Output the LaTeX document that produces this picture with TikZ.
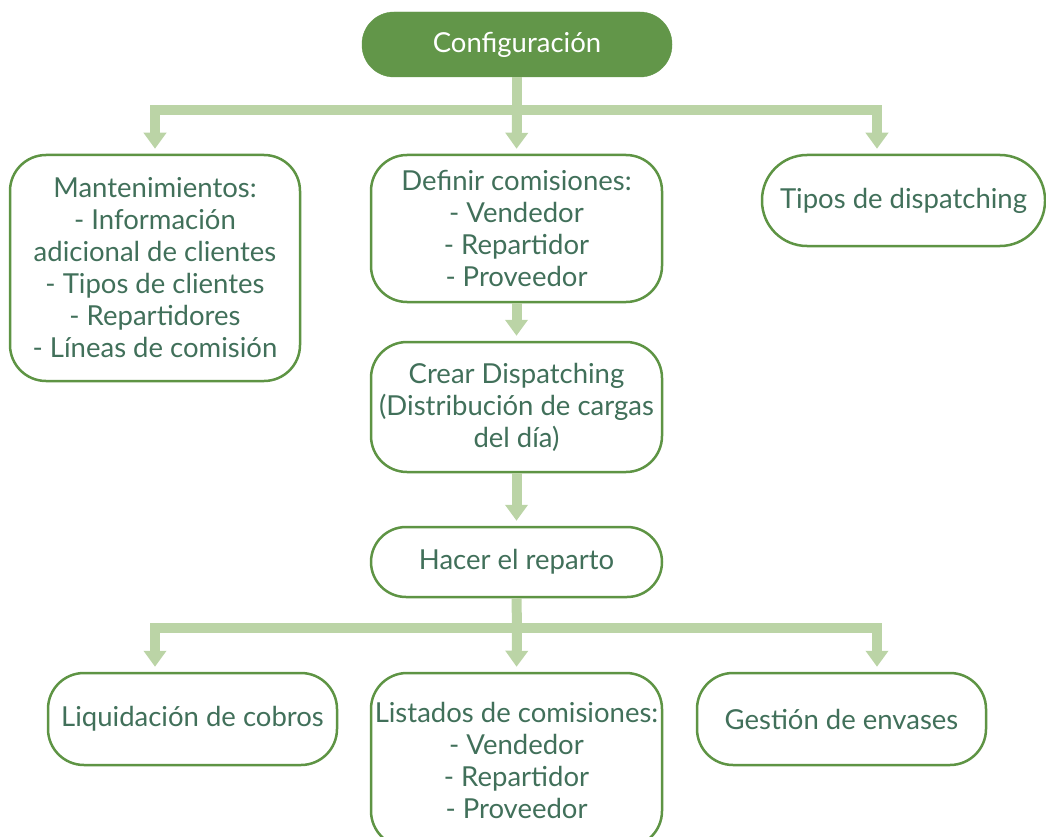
\documentclass[tikz,border=0pt]{standalone}
\usepackage{fontspec}
\setmainfont{Lato}
\usetikzlibrary{arrows.meta}
\definecolor{darkg}{HTML}{629649}
\definecolor{lightg}{HTML}{BBD4A6}
\definecolor{boxg}{HTML}{5E9444}
\definecolor{txtg}{HTML}{41705A}
\tikzset{
  box/.style={draw=boxg, line width=2.5pt, rounded corners=36pt, fill=white,
    text=txtg, align=center, inner sep=0pt, font=\fontsize{27.5}{32}\selectfont},
  topbox/.style={fill=darkg, draw=darkg, rounded corners=32pt, text=white,
    inner sep=0pt, font=\fontsize{27.5}{32}\selectfont},
  conn/.style={draw=lightg, line width=10pt},
  arr/.style={draw=lightg, line width=10pt, -{Triangle[width=22pt,length=16pt]}, shorten >=5pt}
}
\begin{document}
\begin{tikzpicture}[x=1pt,y=-1pt]
\useasboundingbox (0,0) rectangle (1046,837);
\node[topbox, minimum width=310pt, minimum height=65pt] (conf) at (517,44.5) {Configuración};
\node[box, minimum width=290pt, minimum height=226pt] (mant) at (155,268)
  {Mantenimientos:\\- Información\\adicional de clientes\\- Tipos de clientes\\- Repartidores\\- Líneas de comisión};
\node[box, minimum width=291pt, minimum height=147pt] (def) at (516.5,228.5)
  {Definir comisiones:\\- Vendedor\\- Repartidor\\- Proveedor};
\node[box, rounded corners=45pt, minimum width=283pt, minimum height=91pt] (tipos) at (903.5,200.5)
  {Tipos de dispatching};
\node[box, minimum width=291pt, minimum height=130pt] (crear) at (516.5,407)
  {Crear Dispatching\\(Distribución de cargas\\del día)};
\node[box, rounded corners=35pt, minimum width=291pt, minimum height=70pt] (hacer) at (516.5,562)
  {Hacer el reparto};
\node[box, minimum width=289pt, minimum height=92pt] (liq) at (192.5,719)
  {Liquidación de cobros};
\node[box, minimum width=291pt, minimum height=174pt] (list) at (516.5,760)
  {Listados de comisiones:\\- Vendedor\\- Repartidor\\- Proveedor};
\node[box, minimum width=289pt, minimum height=92pt] (gest) at (841.5,719)
  {Gestión de envases};
% top connectors
\coordinate (t1) at (517,110);
\coordinate (tl) at (155,110);
\coordinate (tr) at (877,110);
\draw[conn] (conf.south) -- (t1);
\draw[conn] ([xshift=-5pt]tl) -- ([xshift=5pt]tr);
\draw[arr] ([yshift=-5pt]tl) -- (tl |- mant.north);
\draw[arr] (t1) -- (def.north);
\draw[arr] ([yshift=-5pt]tr) -- (tr |- tipos.north);
% middle
\draw[arr] (def.south) -- (crear.north);
\draw[arr] (crear.south) -- (hacer.north);
% bottom connectors
\coordinate (b1) at (517,628);
\coordinate (bl) at (155,628);
\coordinate (br) at (877,628);
\draw[conn] (hacer.south) -- (b1);
\draw[conn] ([xshift=-5pt]bl) -- ([xshift=5pt]br);
\draw[arr] ([yshift=-5pt]bl) -- (bl |- liq.north);
\draw[arr] (b1) -- (list.north);
\draw[arr] ([yshift=-5pt]br) -- (br |- gest.north);
\end{tikzpicture}
\end{document}
